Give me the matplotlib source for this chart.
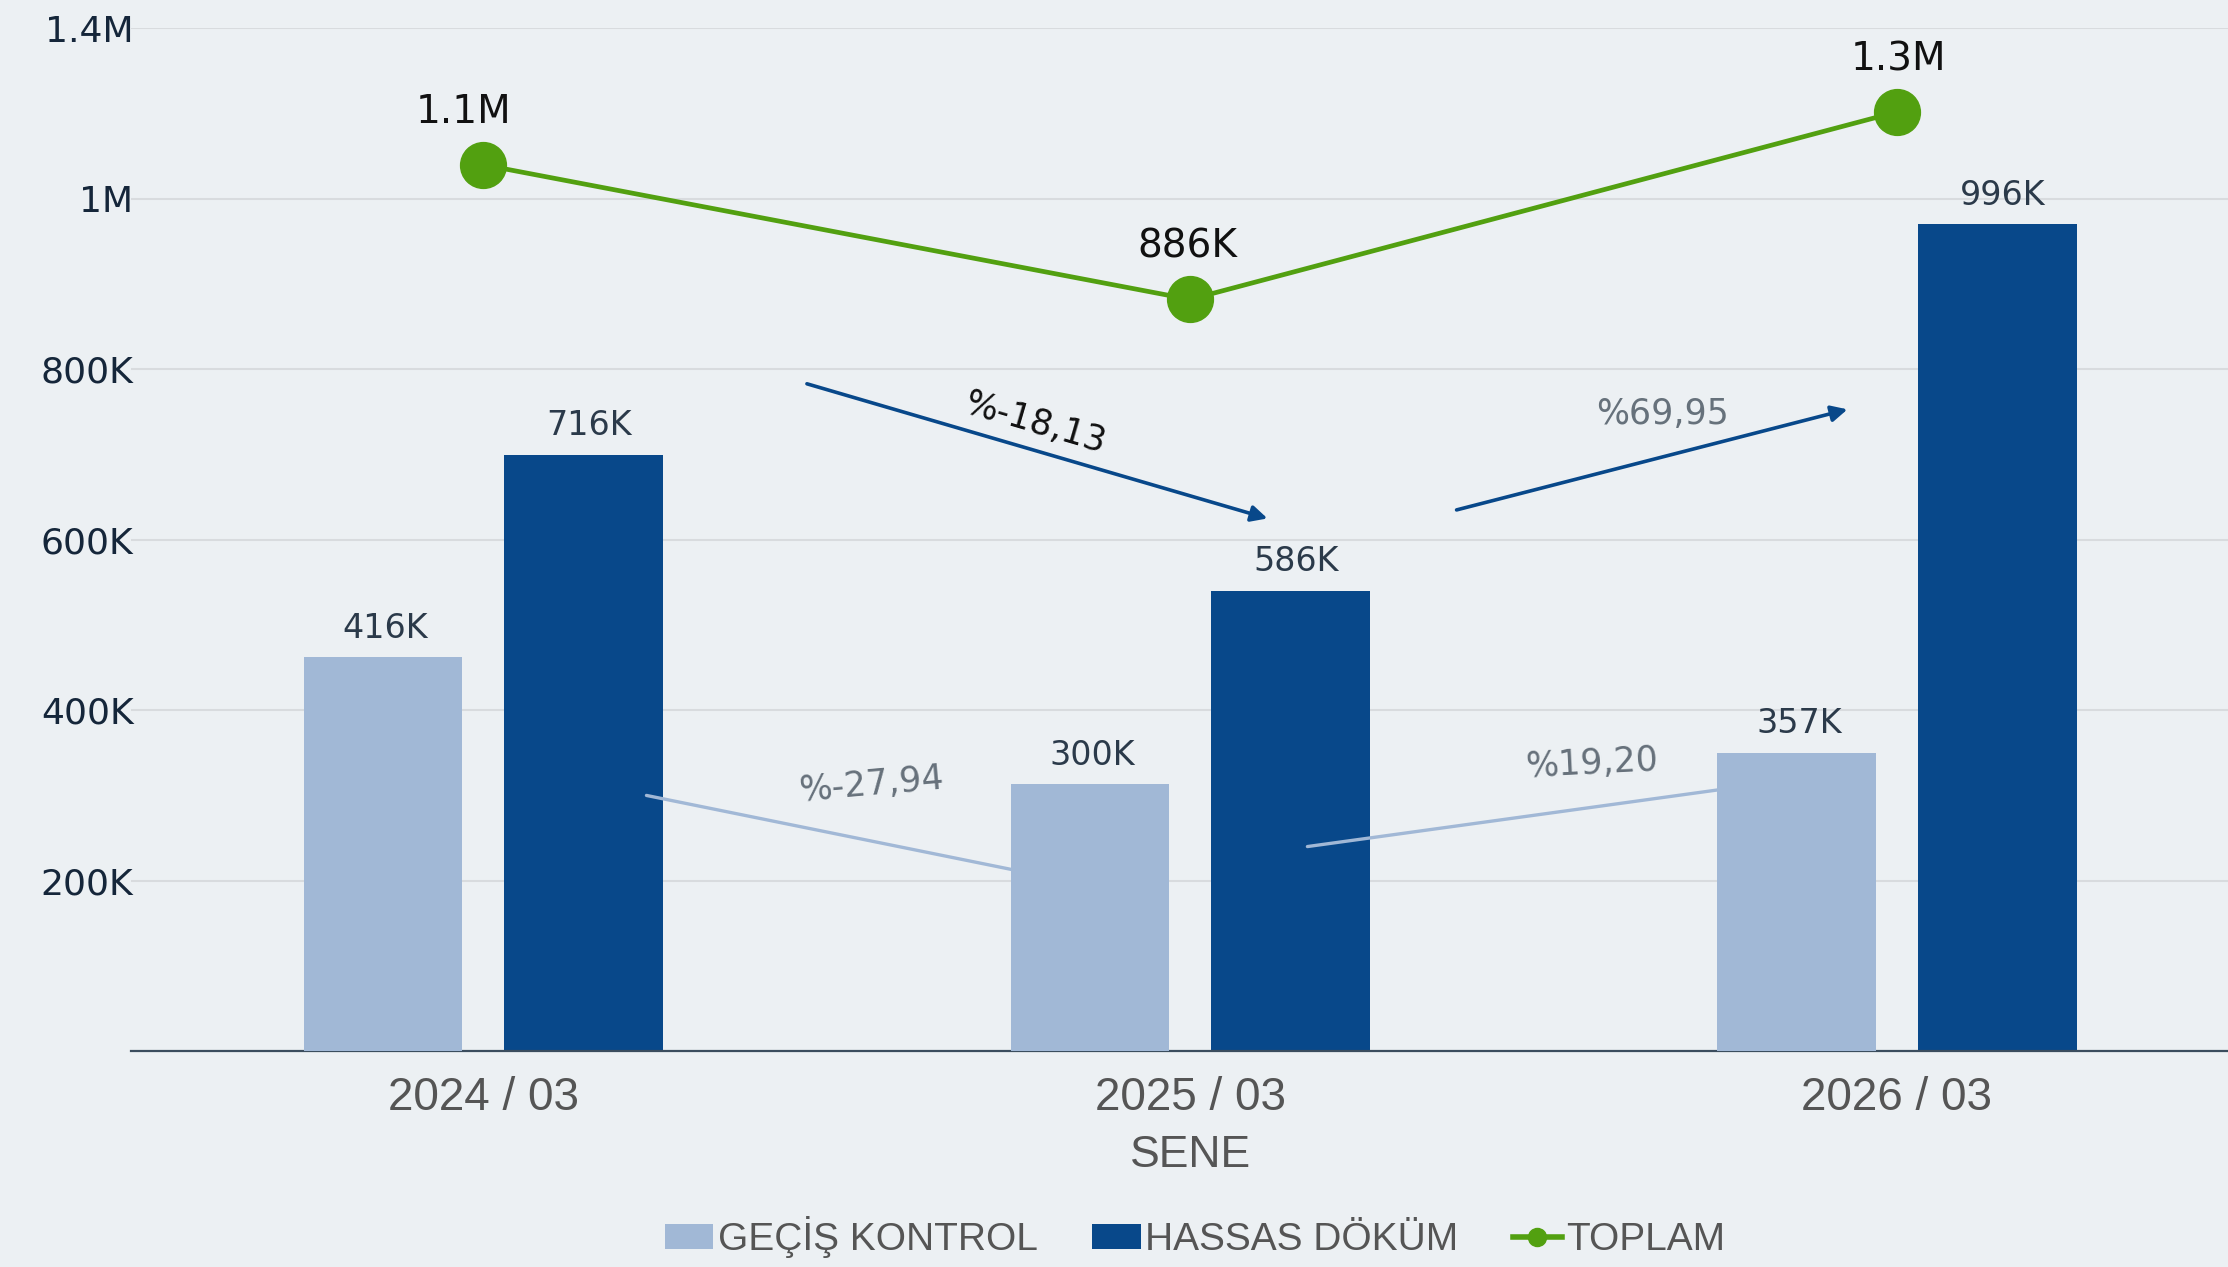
import matplotlib
matplotlib.use("Agg")
import matplotlib.pyplot as plt
from matplotlib.lines import Line2D
from matplotlib.patches import Patch
import numpy as np

# ---------------- data ----------------
categories = ["2024 / 03", "2025 / 03", "2026 / 03"]
gecis_values = [462e3, 313e3, 350e3]          # bar heights as drawn
hassas_values = [700e3, 540e3, 970e3]
toplam_values = [1040e3, 882e3, 1102e3]
gecis_labels = ["416K", "300K", "357K"]
hassas_labels = ["716K", "586K", "996K"]
toplam_labels = ["1.1M", "886K", "1.3M"]
ytick_values = [200e3, 400e3, 600e3, 800e3, 1000e3, 1200e3]
ytick_labels = ["200K", "400K", "600K", "800K", "1M", "1.4M"]
series_names = ["GEÇİŞ KONTROL", "HASSAS DÖKÜM", "TOPLAM"]
change_hassas = ["%-18,13", "%69,95"]
change_gecis = ["%-27,94", "%19,20"]

# ---------------- style ----------------
BG = "#ECF0F3"
LIGHT = "#A1B8D6"
DARK = "#08488A"
GREEN = "#52A010"
GRID = "#D8DBDE"
NUMFONT = ["DejaVu Sans"]
CONDFONT = ["Liberation Sans Narrow", "Liberation Sans", "DejaVu Sans"]

fig = plt.figure(figsize=(22.28, 12.67), dpi=100, facecolor=BG)
ax = fig.add_axes([0.0587, 0.1704, 0.9413, 0.80718])
ax.set_facecolor(BG)

x = np.arange(len(categories))
off = 0.142
w = 0.224

ax.bar(x - off, gecis_values, width=w, color=LIGHT, zorder=3)
ax.bar(x + off, hassas_values, width=w, color=DARK, zorder=2)

# bar value labels
for xi, v, t in zip(x, gecis_values, gecis_labels):
    ax.annotate(t, (xi - off, v), xytext=(2, 21), textcoords="offset points",
                ha="center", va="center", fontsize=24, color="#2B3A4A",
                family=NUMFONT, zorder=6)
for xi, v, t in zip(x, hassas_values, hassas_labels):
    ax.annotate(t, (xi + off, v), xytext=(4, 21), textcoords="offset points",
                ha="center", va="center", fontsize=24, color="#2B3A4A",
                family=NUMFONT, zorder=6)

# total line
ax.plot(x, toplam_values, color=GREEN, lw=3.4, marker="o", markersize=33,
        zorder=5, solid_capstyle="round")
dxs = [-14, -2, 1]
for xi, v, t, dx in zip(x, toplam_values, toplam_labels, dxs):
    ax.annotate(t, (xi, v), xytext=(dx, 38), textcoords="offset points",
                ha="center", va="center", fontsize=28, color="#111111",
                family=NUMFONT, zorder=6)

# change arrows (HASSAS DÖKÜM)
ax.annotate("", xy=(1.1095, 625e3), xytext=(0.458, 783e3),
            arrowprops=dict(arrowstyle="-|>", color=DARK, lw=2.6,
                            mutation_scale=24, shrinkA=0, shrinkB=0), zorder=4)
ax.text(0.78, 737e3, change_hassas[0], rotation=-16.3, ha="center", va="center",
        fontsize=25, color="#111111", family=NUMFONT, rotation_mode="anchor")
ax.annotate("", xy=(1.930, 753e3), xytext=(1.377, 635e3),
            arrowprops=dict(arrowstyle="-|>", color=DARK, lw=2.6,
                            mutation_scale=24, shrinkA=0, shrinkB=0), zorder=4)
ax.text(1.668, 747e3, change_hassas[1], ha="center", va="center",
        fontsize=25, color="#66717B", family=NUMFONT)

# change lines (GEÇİŞ KONTROL)
ax.annotate("", xy=(0.76, 211e3), xytext=(0.231, 300e3),
            arrowprops=dict(arrowstyle="-", color=LIGHT, lw=2.4,
                            shrinkA=0, shrinkB=0), zorder=2.5)
ax.text(0.549, 312e3, change_gecis[0], rotation=5, ha="center", va="center",
        fontsize=25, color="#66717B", family=NUMFONT, rotation_mode="anchor")
ax.annotate("", xy=(1.76, 308e3), xytext=(1.166, 240e3),
            arrowprops=dict(arrowstyle="-", color=LIGHT, lw=2.4,
                            shrinkA=0, shrinkB=0), zorder=2.5)
ax.text(1.568, 337e3, change_gecis[1], rotation=3, ha="center", va="center",
        fontsize=25, color="#66717B", family=NUMFONT, rotation_mode="anchor")

# axes
ax.set_xlim(-0.4985, 2.4683)
ax.set_ylim(0, 1.2e6)
ax.set_yticks(ytick_values)
ax.set_yticklabels(ytick_labels, family=NUMFONT, fontsize=26, color="#15263A")
ax.set_xticks(x)
ax.set_xticklabels(categories, family=CONDFONT, fontsize=33, color="#555555")
ax.tick_params(axis="y", length=0, pad=-2)
ax.tick_params(axis="x", length=0, pad=18)
ax.grid(axis="y", color=GRID, lw=1.5)
ax.set_axisbelow(True)
for s in ["left", "right", "top"]:
    ax.spines[s].set_visible(False)
ax.spines["bottom"].set_color("#3B4D5E")
ax.spines["bottom"].set_linewidth(1.6)
ax.set_xlabel("SENE", family=CONDFONT, fontsize=32, color="#555555")
ax.xaxis.set_label_coords(0.5054, -0.082)

# legend
handles = [
    Patch(facecolor=LIGHT, edgecolor="none"),
    Patch(facecolor=DARK, edgecolor="none"),
    Line2D([0], [0], color=GREEN, lw=4, marker="o", markersize=13),
]
leg = fig.legend(handles, series_names, loc="center", ncol=3,
                 bbox_to_anchor=(0.5364, 0.0235), frameon=False,
                 prop={"family": CONDFONT, "size": 28},
                 handlelength=1.25, handleheight=0.6, handletextpad=0.12,
                 columnspacing=1.4, borderaxespad=0)
for t in leg.get_texts():
    t.set_color("#555555")

fig.savefig("out.png", dpi=100, facecolor=BG)
